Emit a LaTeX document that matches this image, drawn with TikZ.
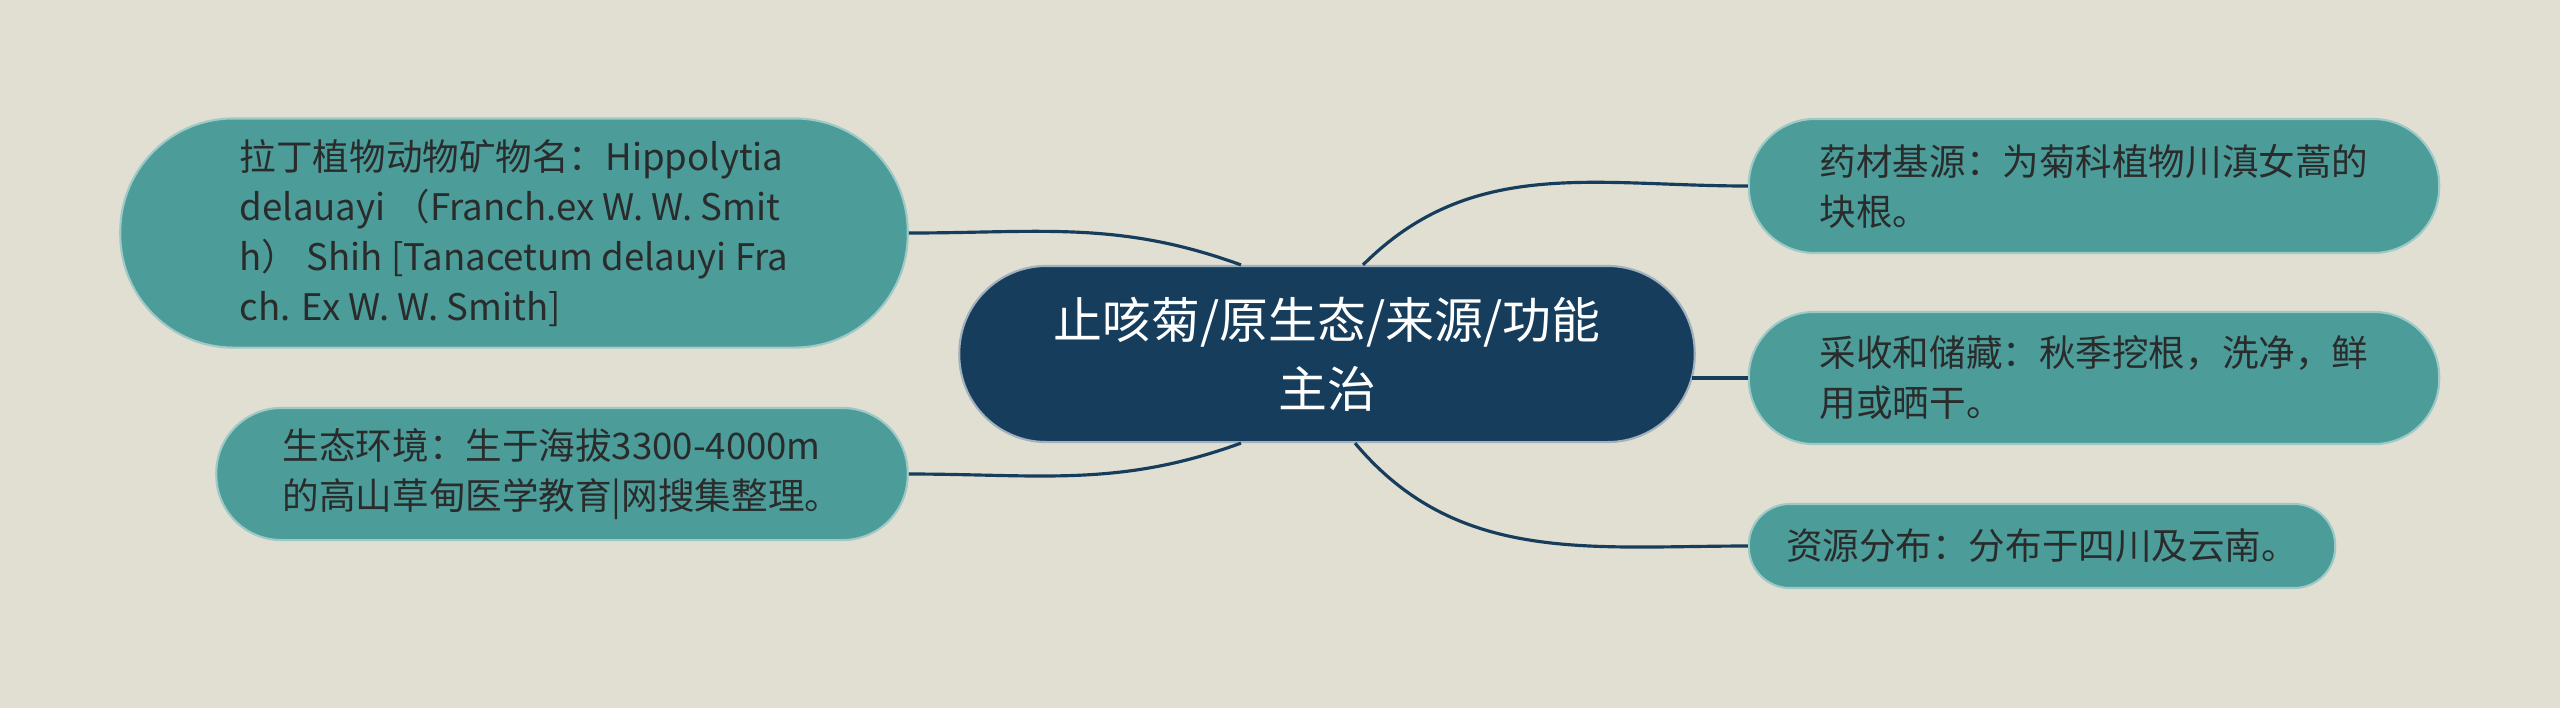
\documentclass[tikz,border=0pt]{standalone}
\usepackage{fontspec}
\newfontfamily\cjk{Noto Sans CJK SC}
\usetikzlibrary{positioning}
\definecolor{bgcol}{HTML}{E0DFD1}
\definecolor{leafcol}{HTML}{4C9C9A}
\definecolor{rootcol}{HTML}{173D5C}
\definecolor{inkcol}{HTML}{2A2B2B}

\begin{document}
\begin{tikzpicture}[x=0.01cm,y=-0.01cm,
	leaf/.style={shape=rectangle, fill=leafcol, draw=leafcol!55!white, line width=0.6pt, align=left, text=inkcol, inner sep=0pt, font=\cjk\fontsize{10.4}{14.2}\selectfont},
	root/.style={shape=rectangle, fill=rootcol, draw=rootcol!40!white, line width=0.6pt, align=center, text=white, inner sep=0pt, font=\cjk\fontsize{13.9}{19.6}\selectfont},
	link/.style={draw=rootcol, line width=0.9pt}]
\fill [bgcol] (0,0) rectangle (2560,708);
\useasboundingbox (0,0) rectangle (2560,708);
\node [root, minimum width=7.35cm, minimum height=1.76cm, rounded corners=0.87cm] (c) at (1327,354){止咳菊/原生态/来源/功能\\主治};
\node [leaf, minimum width=7.87cm, minimum height=2.29cm, rounded corners=1.13cm] (latin) at (514,233){拉丁植物动物矿物名：Hippolytia\\delauayi （Franch.ex W. W. Smit\\h） Shih [Tanacetum delauyi Fra\\ch. Ex W. W. Smith]};
\node [leaf, minimum width=6.91cm, minimum height=1.32cm, rounded corners=0.65cm] (habitat) at (562,474){生态环境：生于海拔3300-4000m\\的高山草甸医学教育|网搜集整理。};
\node [leaf, minimum width=6.90cm, minimum height=1.34cm, rounded corners=0.66cm] (origin) at (2094,186){药材基源：为菊科植物川滇女蒿的\\块根。};
\node [leaf, minimum width=6.90cm, minimum height=1.32cm, rounded corners=0.65cm] (harvest) at (2094,378){采收和储藏：秋季挖根，洗净，鲜\\用或晒干。};
\node [leaf, minimum width=5.86cm, minimum height=0.84cm, rounded corners=0.41cm] (spread) at (2042,546){资源分布：分布于四川及云南。};

\draw [link] (latin.east) to[out=0,in=160] ([xshift=-0.86cm]c.north);
\draw [link] (habitat.east) to[out=0,in=200] ([xshift=-0.86cm]c.south);
\draw [link] ([xshift=0.36cm]c.north) to[out=45,in=180] (origin.west);
\draw [link] ([xshift=-0.04cm]c.east |- harvest.west) -- (harvest.west);
\draw [link] ([xshift=0.28cm]c.south) to[out=-50,in=180] (spread.west);
\end{tikzpicture}
\end{document}
